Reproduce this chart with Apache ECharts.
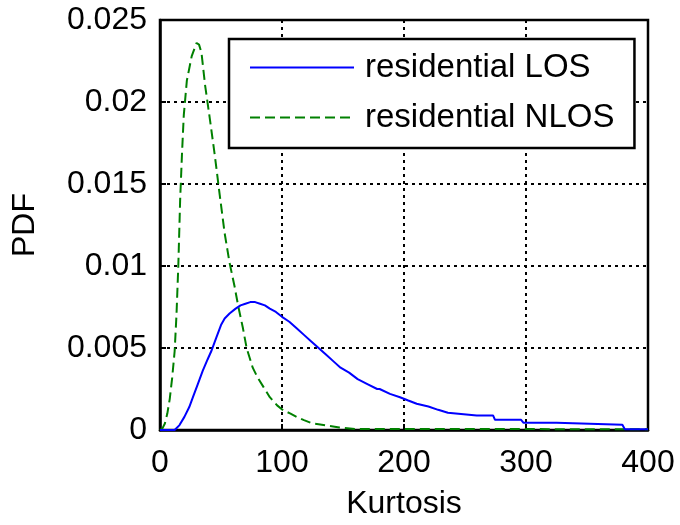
<!DOCTYPE html>
<html>
<head>
<meta charset="utf-8">
<script src="https://cdn.jsdelivr.net/npm/echarts@6/dist/echarts.min.js"></script>
<style>
  html, body { margin: 0; padding: 0; background: #fff; }
  #chart { width: 680px; height: 525px; }
</style>
</head>
<body>
<div id="chart"></div>
<script>
// Kurtosis PDF estimates for residential channels
const seriesNames = ['residential LOS', 'residential NLOS'];

const losKurtosis = [0, 12, 16, 20, 24, 27, 31, 35, 39, 42, 46, 50, 53, 57, 62, 66, 70, 74, 78, 82, 86, 90, 95,
  100, 106, 112, 118, 124, 130, 136, 142, 148, 155, 162, 170, 178, 180, 188.5, 196.7, 203.5, 210.4, 220, 228,
  236, 259.6, 273, 274.6, 296, 298, 325, 326.5, 379, 381, 400];
const losPdf = [0, 0, 0.0003, 0.0008, 0.0014, 0.0020, 0.0028, 0.0036, 0.0043, 0.0048, 0.0056, 0.0064, 0.0068,
  0.0071, 0.0074, 0.0076, 0.0077, 0.0078, 0.0078, 0.0077, 0.0076, 0.0074, 0.0072,
  0.0069, 0.0066, 0.0062, 0.0058, 0.0054, 0.0050, 0.0046, 0.0042, 0.0038, 0.0035, 0.0031, 0.0028, 0.0025,
  0.0025, 0.0022, 0.0020, 0.0018, 0.0016, 0.00143, 0.00123,
  0.00105, 0.00089, 0.00089, 0.00062, 0.00062, 0.00044, 0.00044, 0.00032, 0.00032, 0.00005, 0.00005];

const nlosKurtosis = [0, 2, 4, 6, 8, 10, 12, 13.5, 15, 16.5, 18, 19.5, 22, 26, 30, 32, 34, 37, 41, 45, 49, 53,
  57, 61, 64, 68, 71, 76, 80, 85, 90, 96, 101, 107, 112, 118, 125, 134, 147, 160, 400];
const nlosPdf = [0, 0.0001, 0.0004, 0.0010, 0.0019, 0.0032, 0.0048, 0.0070, 0.0100, 0.0140, 0.0168, 0.0192,
  0.0213, 0.0228, 0.0236, 0.0235, 0.0230, 0.0210, 0.0189, 0.0167, 0.0143, 0.0120,
  0.0102, 0.0088, 0.0076, 0.0062, 0.0050, 0.0038, 0.0032, 0.0026, 0.0020, 0.0015, 0.0012, 0.0010, 0.0008,
  0.0006, 0.0004, 0.0003, 0.00015, 0.00006, 0.00005];

const xTicks = [0, 100, 200, 300, 400];
const yTicks = [0, 0.005, 0.01, 0.015, 0.02, 0.025];

const FONT = 'Liberation Sans, Arial, sans-serif';
const zip = (xs, ys) => xs.map((x, i) => [x, ys[i]]);

const gridLine = { show: true, lineStyle: { color: '#000', width: 2, type: [3, 4] } };
const tickFmt = v => String(parseFloat(Number(v).toFixed(4)));

const chart = echarts.init(document.getElementById('chart'), null, { renderer: 'canvas' });
chart.setOption({
  animation: false,
  backgroundColor: '#fff',
  grid: {
    left: 160, top: 20, right: 32, bottom: 92,
    show: true, borderColor: '#000', borderWidth: 2.5, backgroundColor: 'transparent'
  },
  legend: {
    orient: 'vertical',
    left: 229, top: 39,
    data: seriesNames,
    backgroundColor: '#fff',
    borderColor: '#000', borderWidth: 2.5, borderRadius: 0,
    padding: [12, 20, 14, 20],
    itemWidth: 104, itemHeight: 12, itemGap: 17,
    itemStyle: { opacity: 0 },
    textStyle: { fontFamily: FONT, fontSize: 33, color: '#000', padding: [0, 0, 0, 6] }
  },
  xAxis: {
    type: 'value',
    min: xTicks[0], max: xTicks[xTicks.length - 1], interval: 100,
    name: 'Kurtosis', nameLocation: 'middle', nameGap: 58,
    nameTextStyle: { fontFamily: FONT, fontSize: 32, color: '#000' },
    axisLine: { show: true, lineStyle: { color: '#000', width: 2.5 } },
    axisTick: { show: true, inside: true, length: 6, lineStyle: { color: '#000', width: 2 } },
    axisLabel: { fontFamily: FONT, fontSize: 32, color: '#000', margin: 17, formatter: tickFmt },
    splitLine: gridLine
  },
  yAxis: {
    type: 'value',
    min: yTicks[0], max: yTicks[yTicks.length - 1], interval: 0.005,
    name: 'PDF', nameLocation: 'middle', nameGap: 119,
    nameTextStyle: { fontFamily: FONT, fontSize: 32, color: '#000' },
    axisLine: { show: true, lineStyle: { color: '#000', width: 2.5 } },
    axisTick: { show: true, inside: true, length: 6, lineStyle: { color: '#000', width: 2 } },
    axisLabel: { fontFamily: FONT, fontSize: 32, color: '#000', margin: 13, formatter: tickFmt },
    splitLine: gridLine
  },
  series: [
    {
      name: seriesNames[0], type: 'line', symbol: 'none', smooth: false,
      data: zip(losKurtosis, losPdf),
      lineStyle: { color: '#0000ff', width: 2, type: 'solid' },
      itemStyle: { color: '#0000ff' },
      z: 3
    },
    {
      name: seriesNames[1], type: 'line', symbol: 'none', smooth: false,
      data: zip(nlosKurtosis, nlosPdf),
      lineStyle: { color: '#008000', width: 2, type: [10, 5] },
      itemStyle: { color: '#008000' },
      z: 2
    }
  ]
});
</script>
</body>
</html>
